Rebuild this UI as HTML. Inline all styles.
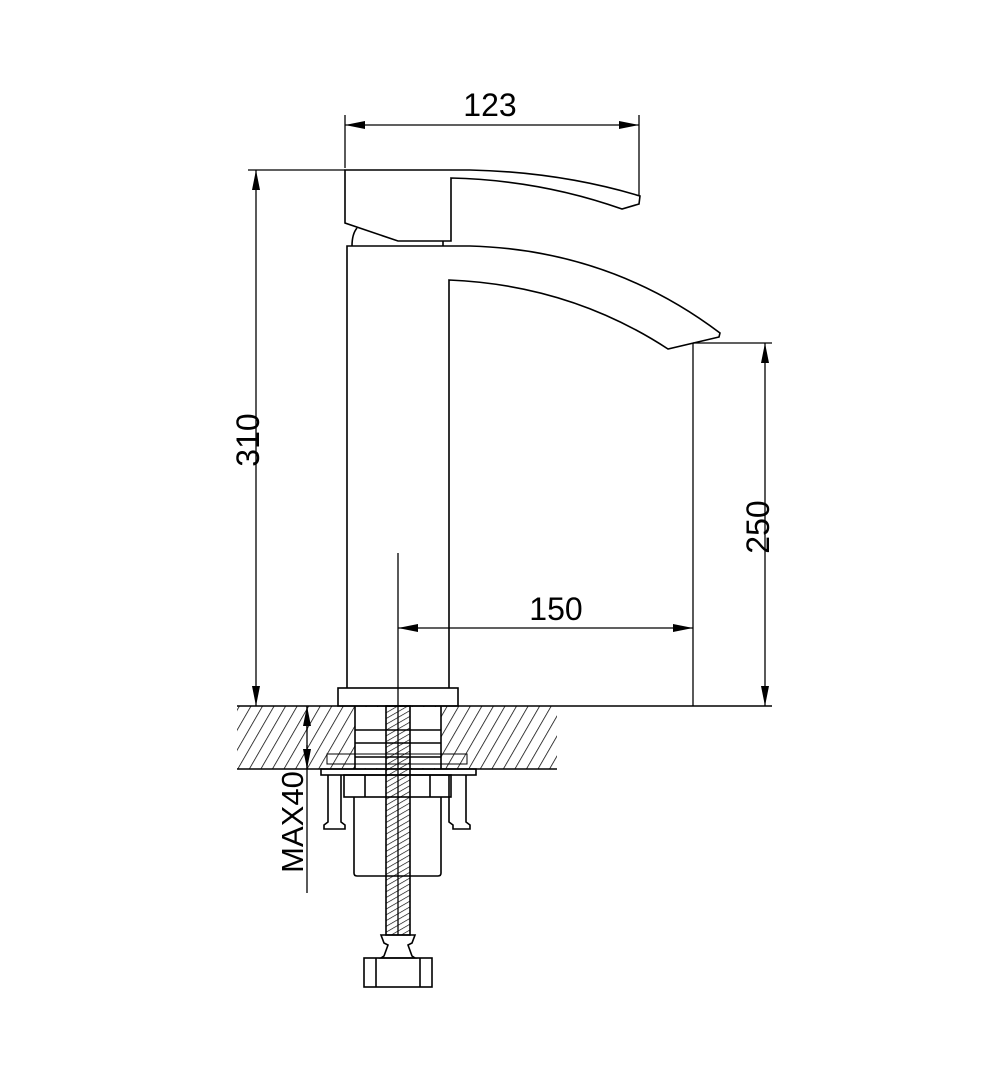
<!DOCTYPE html>
<html><head><meta charset="utf-8"><style>html,body{margin:0;padding:0;background:#fff}svg{display:block}</style></head>
<body>
<svg width="981" height="1080" viewBox="0 0 981 1080" xmlns="http://www.w3.org/2000/svg">
<defs>
<marker id="a" viewBox="0 0 20 8" refX="20" refY="4" markerWidth="20" markerHeight="8" markerUnits="userSpaceOnUse" orient="auto-start-reverse"><path d="M0,0 L20,4 L0,8 Z" fill="#000"/></marker>
<pattern id="h" width="10" height="10" patternUnits="userSpaceOnUse" patternTransform="rotate(30)"><line x1="0" y1="0" x2="0" y2="10" stroke="#000" stroke-width="1.5"/></pattern>
<pattern id="t" width="5" height="5" patternUnits="userSpaceOnUse" patternTransform="rotate(60)"><line x1="0" y1="0" x2="0" y2="5" stroke="#000" stroke-width="1.3"/></pattern>
</defs>
<g fill="none" stroke="#000" stroke-width="1.6">
<rect x="237" y="706" width="320" height="63" fill="url(#h)" stroke="none"/>
<rect x="355" y="707" width="86" height="61" fill="#fff" stroke="none"/>
<line x1="237" y1="706" x2="772" y2="706"/>
<line x1="237" y1="769" x2="557" y2="769"/>
<line x1="355" y1="706" x2="355" y2="769"/><line x1="441" y1="706" x2="441" y2="769"/>
<line x1="355" y1="730" x2="441" y2="730"/><line x1="355" y1="743" x2="441" y2="743"/><line x1="355" y1="757" x2="441" y2="757"/>
<rect x="327" y="754" width="140" height="10" stroke-width="1"/>
<path d="M345,223 L345,170 L470,170 Q560,172 640,196 L639,204 L622,209 Q540,180 451,178 L451,241 L398,241 Z"/>
<path d="M352,246 Q352,234 357,228"/>
<line x1="443" y1="241" x2="443" y2="246"/>
<path d="M347,688 L347,246 L470,246 Q610,250 720,333 L719,337 L668,349 Q570,285 449,280 L449,688"/>
<rect x="338" y="688" width="120" height="18"/>
<rect x="321" y="769" width="155" height="6"/>
<rect x="344" y="775" width="107" height="22"/>
<line x1="365" y1="775" x2="365" y2="797"/><line x1="430" y1="775" x2="430" y2="797"/>
<path d="M354,797 L354,873 Q354,876 357,876 L438,876 Q441,876 441,873 L441,797"/>
<path d="M328,775 L328,822 L324,825 L324,829 L345,829 L345,825 L341,822 L341,775"/>
<path d="M449,775 L449,822 L453,825 L453,829 L470,829 L470,825 L466,822 L466,775"/>
<rect x="386" y="706" width="24" height="229" fill="url(#t)"/>
<path d="M381,935 L415,935 L412,943 L408,945 L412,956 L415,958 L381,958 L384,956 L388,945 L384,943 Z"/>
<rect x="364" y="958" width="68" height="29"/>
<line x1="376" y1="958" x2="376" y2="987"/><line x1="420" y1="958" x2="420" y2="987"/>
</g>
<g stroke="#000" stroke-width="1.3" fill="none">
<line x1="345" y1="115" x2="345" y2="168"/><line x1="639" y1="115" x2="639" y2="196"/>
<line x1="345" y1="125" x2="639" y2="125" marker-start="url(#a)" marker-end="url(#a)"/>
<line x1="248" y1="170" x2="345" y2="170"/>
<line x1="256" y1="170" x2="256" y2="706" marker-start="url(#a)" marker-end="url(#a)"/>
<line x1="693" y1="343" x2="772" y2="343"/>
<line x1="693" y1="343" x2="693" y2="706"/>
<line x1="765" y1="343" x2="765" y2="706" marker-start="url(#a)" marker-end="url(#a)"/>
<line x1="398" y1="553" x2="398" y2="935"/>
<line x1="398" y1="628" x2="693" y2="628" marker-start="url(#a)" marker-end="url(#a)"/>
<line x1="307" y1="706" x2="307" y2="893"/>
<line x1="307" y1="730" x2="307" y2="706" marker-end="url(#a)"/>
<line x1="307" y1="745" x2="307" y2="769" marker-end="url(#a)"/>
</g>
<g font-family="Liberation Sans, sans-serif" font-size="32" fill="#000">
<text x="490" y="116" text-anchor="middle">123</text>
<text x="556" y="620" text-anchor="middle">150</text>
<text transform="translate(259,440) rotate(-90)" text-anchor="middle">310</text>
<text transform="translate(769,527) rotate(-90)" text-anchor="middle">250</text>
<text transform="translate(303,822) rotate(-90)" text-anchor="middle" font-size="31">MAX40</text>
</g>
</svg>
</body></html>
